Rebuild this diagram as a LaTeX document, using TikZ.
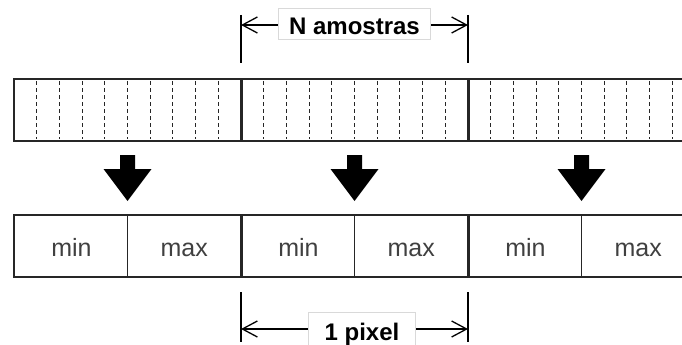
\documentclass[tikz,border=0pt]{standalone}
\usepackage{fontspec}
\setmainfont{Liberation Sans}
\usetikzlibrary{arrows.meta}
\begin{document}
\begin{tikzpicture}[x=1pt,y=-1pt,
  barline/.style={line width=2pt, draw=black!85},
  segsep/.style={line width=3pt, draw=black!85},
  halfsep/.style={line width=1.3pt, draw=black!85},
  sampleline/.style={line width=1pt, draw=black!85, dash pattern=on 4pt off 3pt},
  blockarrow/.style={fill=black},
  celltext/.style={font=\fontsize{25}{30}\selectfont, text=black!75, inner sep=0pt, anchor=base},
  dimtip/.tip={Straight Barb[length=15pt,width=16pt,line width=1.3pt]},
  dimline/.style={line width=1.3pt, dimtip-dimtip},
  dimtick/.style={line width=1.3pt},
  dimlabel/.style={font=\bfseries\fontsize{24}{29}\selectfont, fill=white,
    draw=black!15, line width=0.8pt, inner xsep=11pt, inner ysep=0pt,
    text height=22pt, text depth=0pt}
]
\useasboundingbox (0,0) rectangle (682,345);
\clip (0,0) rectangle (682,345);

% --- sample buffer: three blocks of N samples ---
\foreach \i in {0,1,2} {
  \foreach \k in {1,...,9} {
    \draw[sampleline] ({14+227*\i+22.7*\k},81) -- ({14+227*\i+22.7*\k},139);
  }
}
\draw[barline] (14,79) rectangle (710,141);
\draw[segsep] (241,79) -- (241,141);
\draw[segsep] (468,79) -- (468,141);

% --- block arrows reducing each block ---
\foreach \c in {127.5,354.5,581.5} {
  \fill[blockarrow] ({\c-7.5},155) -- ({\c+7.5},155) -- ({\c+7.5},169)
    -- ({\c+24},169) -- (\c,201) -- ({\c-24},169) -- ({\c-7.5},169) -- cycle;
}

% --- min/max pairs, one pair per pixel ---
\draw[barline] (14,215) rectangle (710,277);
\draw[segsep] (241,215) -- (241,277);
\draw[segsep] (468,215) -- (468,277);
\foreach \c in {127.5,354.5,581.5} {
  \draw[halfsep] (\c,215) -- (\c,277);
}
\node[celltext] (min1) at (71.5,256) {min};
\node[celltext] (max1) at (184.25,256) {max};
\node[celltext] (min2) at (298.5,256) {min};
\node[celltext] (max2) at (411.25,256) {max};
\node[celltext] (min3) at (525.5,256) {min};
\node[celltext] (max3) at (638.25,256) {max};

% --- dimension: N samples ---
\draw[dimtick] (241,15) -- (241,63);
\draw[dimtick] (468,15) -- (468,63);
\coordinate (nL) at (241,25);
\coordinate (nR) at (468,25);
\draw[dimline] (nL) -- (nR);
\node[dimlabel, minimum height=31pt] (nlabel) at (354.5,24) {N amostras};

% --- dimension: one pixel ---
\draw[dimtick] (241,292) -- (241,342);
\draw[dimtick] (468,292) -- (468,342);
\coordinate (pL) at (241,329);
\coordinate (pR) at (468,329);
\draw[dimline] (pL) -- (pR);
\node[dimlabel, minimum height=33pt, minimum width=107pt] (plabel) at (362,329)
  {1 pixel\hspace{10pt}};
\end{tikzpicture}
\end{document}
